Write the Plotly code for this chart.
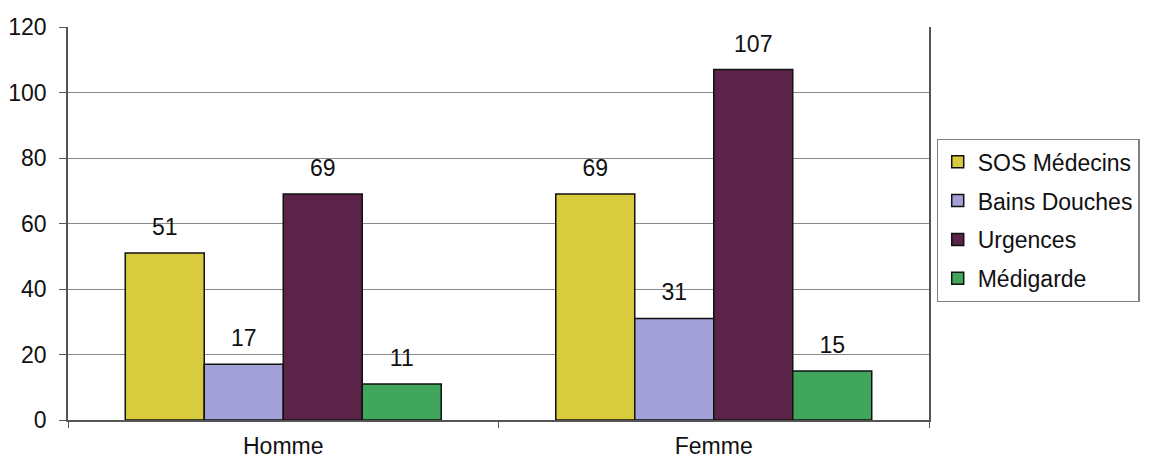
import plotly.graph_objects as go

categories = ["Homme", "Femme"]
series_names = ["SOS Médecins", "Bains Douches", "Urgences", "Médigarde"]
sos_medecins = [51, 69]
bains_douches = [17, 31]
urgences = [69, 107]
medigarde = [11, 15]
y_ticks = [0, 20, 40, 60, 80, 100, 120]

series_values = [sos_medecins, bains_douches, urgences, medigarde]
colors = ["#D8CB3E", "#A3A0D8", "#5A2347", "#3FA65C"]

FONT = "Arial, Liberation Sans, sans-serif"
FS = 23

fig = go.Figure()
for i, (name, vals, col) in enumerate(zip(series_names, series_values, colors)):
    fig.add_trace(go.Bar(
        x=categories, y=vals, name=name,
        marker=dict(color=col, line=dict(color="#111111", width=1.5)),
        offsetgroup=f"g{i}", alignmentgroup="a",
        legendgroup=f"g{i}",
    ))
for i, (name, vals) in enumerate(zip(series_names, series_values)):
    fig.add_trace(go.Scatter(
        x=categories, y=vals, mode="markers+text",
        text=[str(v) for v in vals], textposition="top center",
        textfont=dict(family=FONT, size=FS, color="#111111"),
        marker=dict(size=18, opacity=0),
        offsetgroup=f"g{i}", alignmentgroup="a",
        showlegend=False, hoverinfo="skip", cliponaxis=False,
    ))

fig.update_layout(
    width=1145, height=456,
    margin=dict(l=60, r=224, t=19, b=44),
    paper_bgcolor="white", plot_bgcolor="white",
    barmode="group", bargap=0.266, bargroupgap=0,
    scattermode="group", scattergap=0.266,
    font=dict(family=FONT, size=FS, color="#111111"),
    showlegend=True,
    legend=dict(
        x=1.2445, xanchor="right", y=0.715, yanchor="top",
        bordercolor="#808080", borderwidth=1.2,
        font=dict(family=FONT, size=FS, color="#111111"),
        traceorder="grouped", tracegroupgap=6,
        itemwidth=30,
    ),
    xaxis=dict(
        showline=True, linecolor="#555555", linewidth=1.5,
        ticks="outside", tickson="boundaries", ticklen=6, tickcolor="#555555",
        showgrid=False, tickfont=dict(size=FS), ticklabelstandoff=5,
        automargin=False,
    ),
    yaxis=dict(
        range=[0, 120], tickvals=y_ticks,
        showline=True, linecolor="#555555", linewidth=1.5, mirror=True,
        ticks="outside", ticklen=7, tickcolor="#555555",
        showgrid=True, gridcolor="#8a8a8a", gridwidth=1,
        tickfont=dict(size=FS), zeroline=False, ticklabelstandoff=8,
        automargin=False,
    ),
)

fig.write_html("out.html")
